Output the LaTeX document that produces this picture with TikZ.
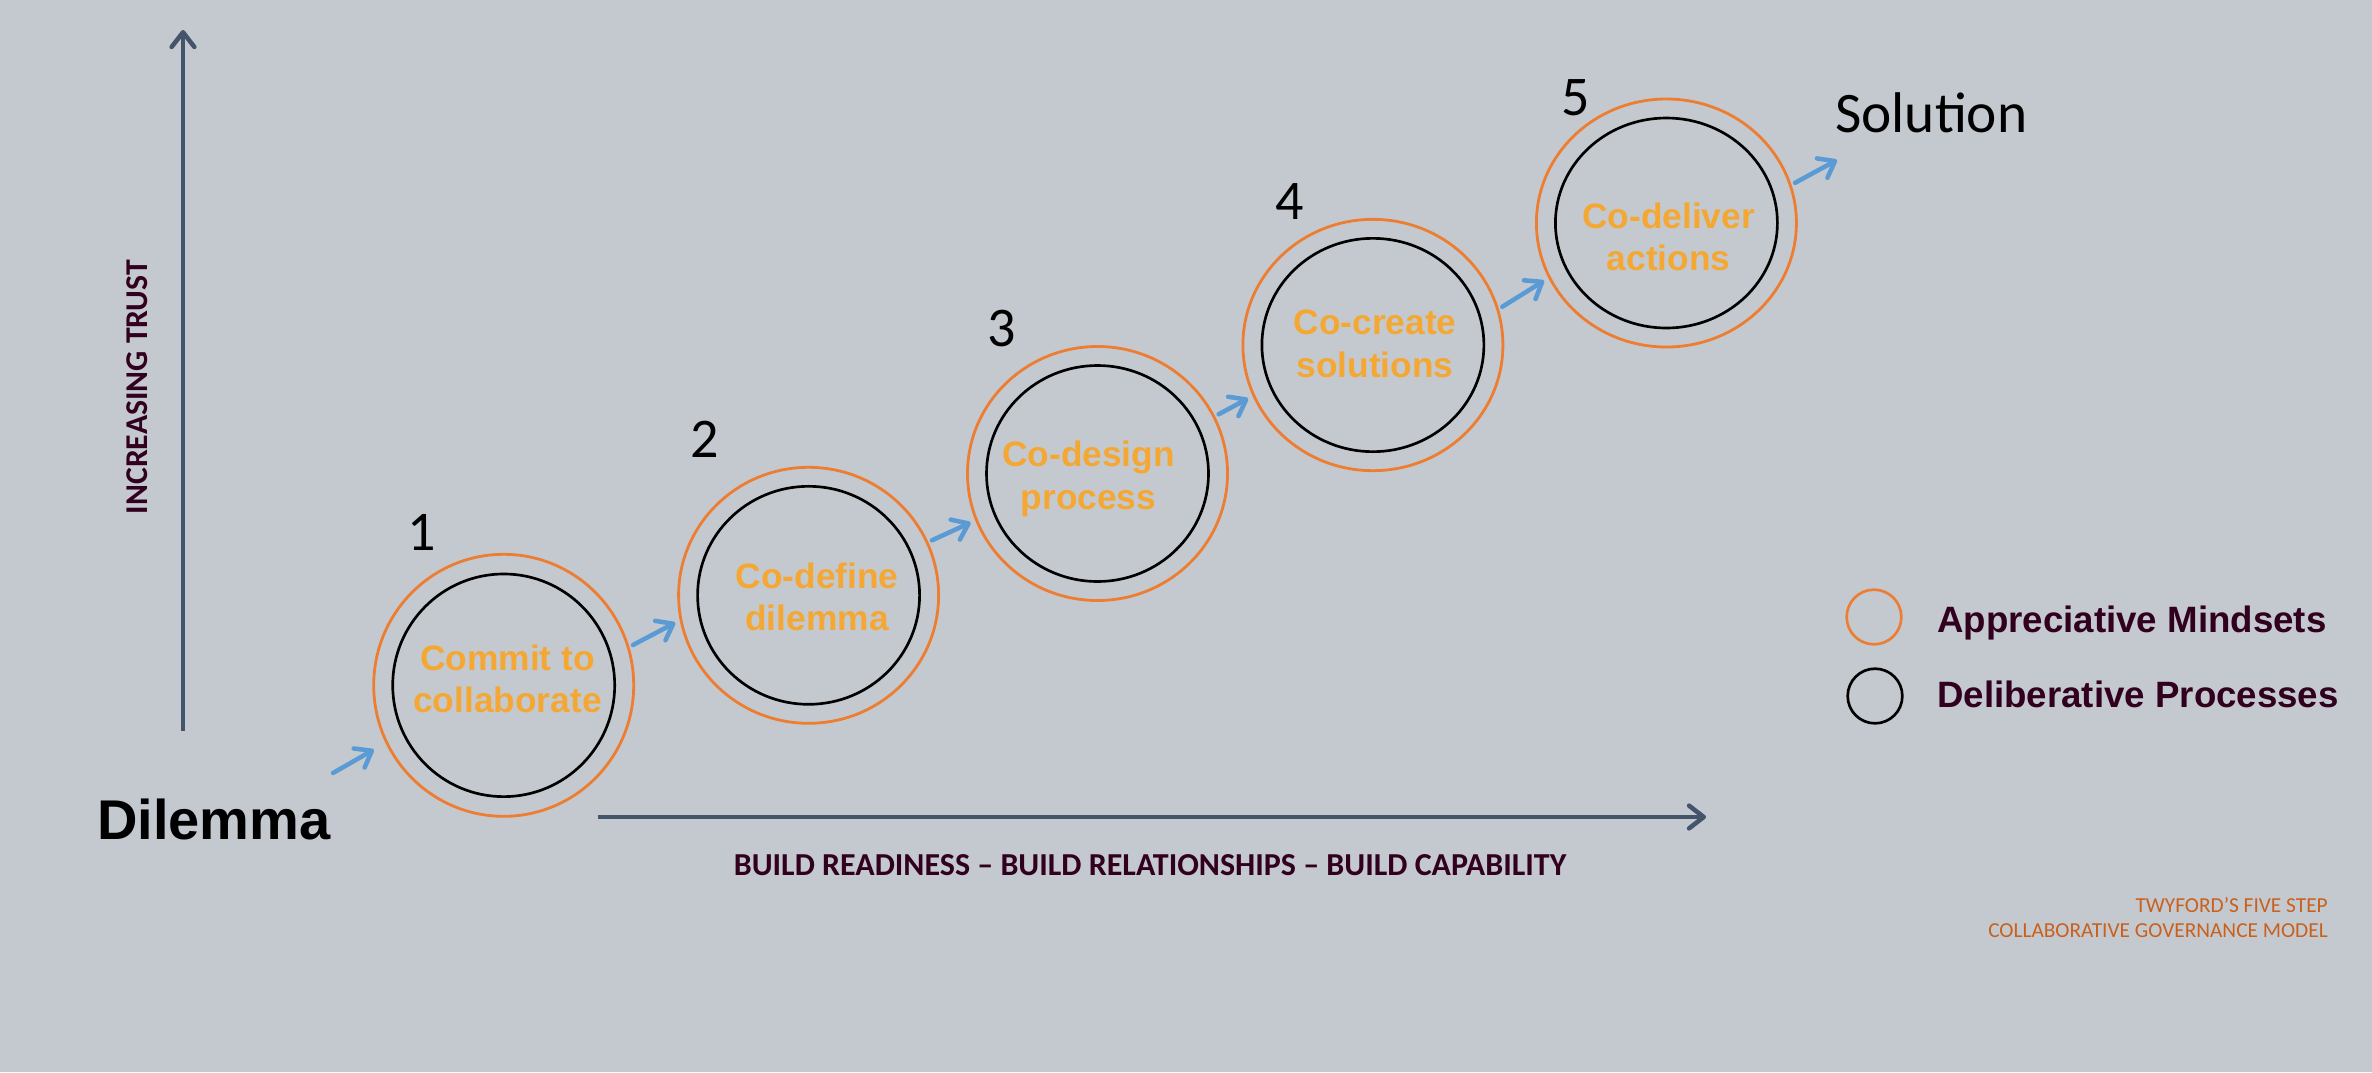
\documentclass[tikz,border=0pt]{standalone}
\usepackage{fontspec}
\setmainfont{Liberation Sans}
\newfontfamily\carlito{Carlito}
\usetikzlibrary{arrows.meta,shapes.geometric}
\definecolor{bgc}{HTML}{C4C9D0}
\definecolor{axisc}{HTML}{44546A}
\definecolor{ringc}{HTML}{ED7D31}
\definecolor{stepc}{HTML}{F4A833}
\definecolor{flowc}{HTML}{5B9BD5}
\definecolor{maroonc}{HTML}{32001F}
\definecolor{footc}{HTML}{C9601C}
\tikzset{
  ring/.style={ellipse, draw=ringc, line width=2.1pt, inner sep=0pt, minimum width=195pt},
  core/.style={ellipse, draw=black, line width=2pt, inner sep=0pt, minimum width=166.5pt},
  steptext/.style={text=stepc, font=\bfseries\fontsize{26.5pt}{32pt}\selectfont, align=center, inner sep=0pt},
  num/.style={font=\carlito\fontsize{42pt}{50pt}\selectfont, inner sep=0pt, anchor=base},
  flow/.style={draw=flowc, line width=3.4pt, line cap=round, -{Straight Barb[length=11pt,width=16.5pt,round]}, shorten <=3pt, shorten >=3.75pt},
  axisarrow/.style={draw=axisc, line width=3.4pt, -{Straight Barb[length=11pt,width=17pt,round]}},
  legtext/.style={text=maroonc, font=\bfseries\fontsize{27.5pt}{33pt}\selectfont, anchor=base west, inner sep=0pt},
  foot/.style={text=footc, font=\carlito\fontsize{16pt}{18pt}\selectfont, anchor=base east, inner sep=0pt},
}
\begin{document}
\begin{tikzpicture}[x=0.75pt,y=-0.75pt]
\useasboundingbox (0,0) rectangle (2372,1072);
\fill[bgc] (0,0) rectangle (2372,1072);

% axes
\coordinate (vbot) at (183,731);
\coordinate (vtop) at (183,30);
\draw[axisarrow] (vbot) -- (vtop);
\coordinate (hleft) at (598,817);
\coordinate (hright) at (1706,817);
\draw[axisarrow] (hleft) -- (hright);
\node[text=maroonc, font=\carlito\bfseries\fontsize{23.8pt}{28pt}\selectfont, rotate=90, inner sep=0pt] (trust) at (137,387) {INCREASING TRUST};
\node[text=maroonc, font=\carlito\bfseries\fontsize{24pt}{28pt}\selectfont, anchor=base, inner sep=0pt] (build) at (1150,875) {BUILD READINESS – BUILD RELATIONSHIPS – BUILD CAPABILITY};

% circles
\node[ring, minimum height=196.5pt] (o1) at (503.7,685.3) {};
\node[core, minimum height=167pt] (i1) at (503.7,685.3) {};
\node[ring, minimum height=192pt] (o2) at (808.6,595.3) {};
\node[core, minimum height=163.5pt] (i2) at (808.6,595.3) {};
\node[ring, minimum height=190.5pt] (o3) at (1097.5,473.5) {};
\node[core, minimum height=162pt] (i3) at (1097.5,473.5) {};
\node[ring, minimum height=188.5pt] (o4) at (1372.9,345) {};
\node[core, minimum height=160pt] (i4) at (1372.9,345) {};
\node[ring, minimum height=186pt] (o5) at (1666.4,223) {};
\node[core, minimum height=157.5pt] (i5) at (1666.4,223) {};

\node[steptext] (t1) at (507.5,679) {Commit to\\collaborate};
\node[steptext] (t2) at (817,597) {Co-define\\dilemma};
\node[steptext] (t3) at (1088.5,479) {Co-design\\process};
\node[steptext] (t4) at (1375,344) {Co-create\\solutions};
\node[steptext] (t5) at (1668.6,237) {Co-deliver\\actions};

\node[num] (n1) at (422,550) {1};
\node[num] (n2) at (705,457) {2};
\node[num] (n3) at (1002,346) {3};
\node[num] (n4) at (1290,219) {4};
\node[num] (n5) at (1576,115) {5};

% end labels
\node[font=\bfseries\fontsize{42pt}{50pt}\selectfont, anchor=base west, inner sep=0pt] (dilemma) at (97,839) {Dilemma};
\node[font=\carlito\fontsize{43pt}{50pt}\selectfont, anchor=base west, inner sep=0pt] (solution) at (1835,132) {Solution};
\coordinate (d0) at (333,773);
\coordinate (s0) at (1837,160);

% flow arrows
\draw[flow, shorten <=0pt, shorten >=10pt] (d0) -- (o1.206.7);
\draw[flow] (o1.17.8) -- (o2.191.4);
\draw[flow] (o2.24.7) -- (o3.201);
\draw[flow] (o3.26.7) -- (o4.203.6);
\draw[flow] (o4.16.9) -- (o5.205.7);
\draw[flow, shorten >=0pt] (o5.17.5) -- (s0);

% legend
\node[circle, draw=ringc, line width=2pt, minimum size=41pt, inner sep=0pt] (lego) at (1874,617) {};
\node[circle, draw=black, line width=2pt, minimum size=41pt, inner sep=0pt] (legb) at (1875,696) {};
\node[legtext] (legot) at (1937,632) {Appreciative Mindsets};
\node[legtext] (legbt) at (1937,707) {Deliberative Processes};

% footer
\node[foot] (f1) at (2328,912) {TWYFORD’S FIVE STEP};
\node[foot] (f2) at (2328,937) {COLLABORATIVE GOVERNANCE MODEL};
\end{tikzpicture}
\end{document}
